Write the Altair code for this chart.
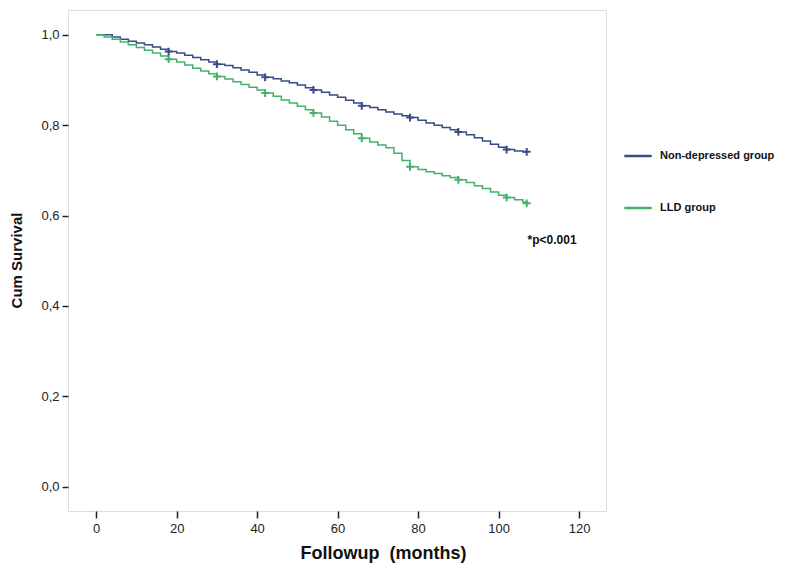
import altair as alt
import pandas as pd

# Kaplan-Meier step points
blue_t = [0, 2, 4, 6, 8, 10, 12, 14, 16, 18, 20, 22, 24, 26, 28, 30, 32, 34, 36, 38, 40, 42, 44, 46, 48, 50, 52, 54, 56, 58, 60, 62, 64, 66, 68, 70, 72, 74, 76, 78, 80, 82, 84, 86, 88, 90, 92, 94, 96, 98, 100, 102, 104, 106, 107]
blue_s = [1.0, 1.0, 0.995, 0.990, 0.986, 0.982, 0.978, 0.973, 0.968, 0.963, 0.960, 0.955, 0.950, 0.945, 0.940, 0.935, 0.932, 0.927, 0.922, 0.917, 0.911, 0.906, 0.903, 0.898, 0.894, 0.889, 0.883, 0.878, 0.873, 0.867, 0.862, 0.855, 0.849, 0.843, 0.839, 0.834, 0.829, 0.825, 0.821, 0.817, 0.811, 0.805, 0.800, 0.795, 0.790, 0.785, 0.779, 0.772, 0.765, 0.758, 0.751, 0.746, 0.743, 0.741, 0.741]
green_t = [0, 2, 4, 6, 8, 10, 12, 14, 16, 18, 20, 22, 24, 26, 28, 30, 32, 34, 36, 38, 40, 42, 44, 46, 48, 50, 52, 54, 56, 58, 60, 62, 64, 66, 68, 70, 72, 74, 76, 78, 80, 82, 84, 86, 88, 90, 92, 94, 96, 98, 100, 102, 104, 106, 107]
green_s = [1.0, 0.995, 0.990, 0.984, 0.978, 0.972, 0.966, 0.960, 0.953, 0.946, 0.940, 0.933, 0.926, 0.920, 0.914, 0.908, 0.902, 0.896, 0.890, 0.884, 0.878, 0.871, 0.864, 0.856, 0.849, 0.842, 0.834, 0.827, 0.818, 0.809, 0.800, 0.790, 0.781, 0.771, 0.763, 0.756, 0.750, 0.738, 0.722, 0.708, 0.702, 0.697, 0.693, 0.688, 0.684, 0.679, 0.673, 0.666, 0.660, 0.652, 0.645, 0.640, 0.635, 0.630, 0.627]

# censored marks
cens_t = [18, 30, 42, 54, 66, 78, 90, 102, 107]
blue_cens = [0.963, 0.935, 0.906, 0.878, 0.843, 0.817, 0.785, 0.746, 0.741]
green_cens = [0.946, 0.908, 0.871, 0.827, 0.771, 0.708, 0.679, 0.640, 0.627]

groups = ["Non-depressed group", "LLD group"]
colors = ["#3a488c", "#45b069"]

curves = pd.concat([
    pd.DataFrame({"t": blue_t, "s": blue_s, "g": groups[0]}),
    pd.DataFrame({"t": green_t, "s": green_s, "g": groups[1]}),
])
cens = pd.concat([
    pd.DataFrame({"t": cens_t, "s": blue_cens, "g": groups[0]}),
    pd.DataFrame({"t": cens_t, "s": green_cens, "g": groups[1]}),
])
note = pd.DataFrame({"t": [107.2], "s": [0.546], "label": ["*p<0.001"]})

FONT = "Liberation Sans"
xscale = alt.Scale(domain=[-7, 126.7], nice=False, zero=False)
yscale = alt.Scale(domain=[-0.054, 1.055], nice=False, zero=False)

xaxis = alt.Axis(values=[0, 20, 40, 60, 80, 100, 120], title="Followup\u00a0\u00a0(months)",
                 grid=False, domain=False, tickSize=7, tickColor="#222", tickWidth=1.5,
                 labelFont=FONT, labelFontSize=13, labelColor="#222", labelPadding=4,
                 titleFont=FONT, titleFontSize=18, titleFontWeight="bold", titleColor="#111",
                 titleX=315, titleY=33, titleAnchor="middle")
yaxis = alt.Axis(values=[0, 0.2, 0.4, 0.6, 0.8, 1.0], title="Cum Survival",
                 labelExpr="replace(format(datum.value, '.1f'), '.', ',')",
                 grid=False, domain=False, tickSize=6, tickColor="#222", tickWidth=1.5,
                 labelFont=FONT, labelFontSize=13, labelColor="#222", labelPadding=3,
                 titleFont=FONT, titleFontSize=15, titleFontWeight="bold", titleColor="#111",
                 titleX=-44, titleY=250, titleAngle=-90, titleAlign="center")

color = alt.Color("g:N", scale=alt.Scale(domain=groups, range=colors),
                  legend=alt.Legend(title=None, orient="none", legendX=555, legendY=131,
                                    symbolType="stroke", symbolStrokeWidth=2.5, symbolSize=750,
                                    labelFont=FONT, labelFontSize=11, labelFontWeight="bold",
                                    labelColor="#111", rowPadding=32, labelOffset=7))

lines = alt.Chart(curves).mark_line(interpolate="step-after", strokeWidth=1.5).encode(
    x=alt.X("t:Q", scale=xscale, axis=xaxis),
    y=alt.Y("s:Q", scale=yscale, axis=yaxis),
    color=color,
)
marks = alt.Chart(cens).mark_point(shape="M-1,0H1M0,-1V1", filled=False, strokeWidth=2, size=60, opacity=1).encode(
    x=alt.X("t:Q", scale=xscale),
    y=alt.Y("s:Q", scale=yscale),
    color=alt.Color("g:N", scale=alt.Scale(domain=groups, range=colors), legend=None),
)
text = alt.Chart(note).mark_text(align="left", baseline="middle", font=FONT, fontSize=12,
                                 fontWeight="bold", color="#111").encode(
    x=alt.X("t:Q", scale=xscale),
    y=alt.Y("s:Q", scale=yscale),
    text="label:N",
)

chart = alt.layer(lines, marks, text).properties(
    width=538, height=501,
    autosize=alt.AutoSizeParams(type="none"),
    padding={"left": 60, "top": 2, "right": 186, "bottom": 60},
).configure_view(fill="#f0f0f0", stroke="#333", strokeWidth=1.5).configure(background="white")

chart.save("out.html", embed_options={"renderer": "svg", "actions": False})
